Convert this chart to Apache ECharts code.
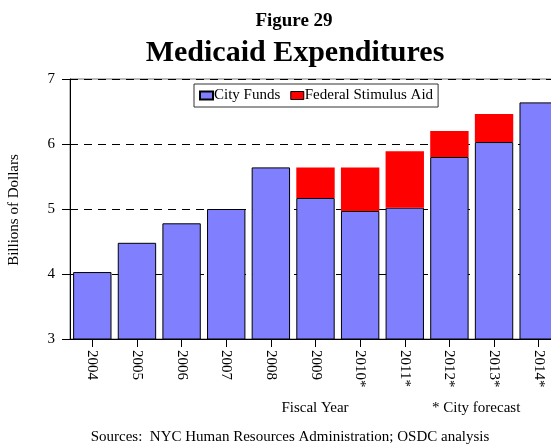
<!DOCTYPE html>
<html>
<head>
<meta charset="utf-8">
<script src="https://cdn.jsdelivr.net/npm/echarts@6/dist/echarts.min.js"></script>
<style>
html,body{margin:0;padding:0;background:#fff;}
#chart{width:551px;height:448px;}
</style>
</head>
<body>
<div id="chart"></div>
<script>
const categories = ['2004','2005','2006','2007','2008','2009','2010*','2011*','2012*','2013*','2014*'];
const cityFunds = [4.03, 4.48, 4.78, 5.00, 5.64, 5.17, 4.97, 5.02, 5.80, 6.03, 6.64];
const stimulusAid = [null, null, null, null, null, 0.47, 0.67, 0.87, 0.40, 0.43, null];
const yTicks = [3, 4, 5, 6, 7];

const FONT = "'Liberation Serif', 'DejaVu Serif', serif";
const chart = echarts.init(document.getElementById('chart'), null, {renderer: 'canvas'});

const option = {
  backgroundColor: '#fff',
  animation: false,
  textStyle: {fontFamily: FONT, color: '#000'},
  grid: {
    left: 70, top: 79, bottom: 109, width: 491,
    outerBoundsMode: 'none', containLabel: false,
    show: true, borderColor: '#777', borderWidth: 1, backgroundColor: 'transparent'
  },
  legend: {
    left: 194, top: 84,
    orient: 'horizontal',
    itemWidth: 13, itemHeight: 8, itemGap: 10,
    padding: [4, 5, 4, 5],
    borderColor: '#333', borderWidth: 1,
    textStyle: {fontFamily: FONT, fontSize: 15, color: '#000', padding: [0, 0, 0, -4]},
    data: [
      {name: 'City Funds', icon: 'rect'},
      {name: 'Federal Stimulus Aid', icon: 'rect', itemStyle: {borderColor: '#000', borderWidth: 1}}
    ]
  },
  xAxis: {
    type: 'category',
    data: categories,
    axisLine: {show: true, lineStyle: {color: '#000', width: 1}},
    axisTick: {show: true, alignWithLabel: true, length: 8, lineStyle: {color: '#000'}},
    axisLabel: {rotate: -90, margin: 11, fontFamily: FONT, fontSize: 15, color: '#000'}
  },
  yAxis: {
    type: 'value',
    min: yTicks[0], max: yTicks[yTicks.length - 1], interval: 1,
    axisLine: {show: true, lineStyle: {color: '#000', width: 1}},
    axisTick: {show: true, length: 8, lineStyle: {color: '#000'}},
    axisLabel: {margin: 15, fontFamily: FONT, fontSize: 15, color: '#000'},
    splitLine: {show: true, lineStyle: {color: '#000', width: 1, type: [8, 6]}}
  },
  series: [
    {
      name: 'City Funds', type: 'bar', stack: 'total',
      data: cityFunds,
      barCategoryGap: '14%',
      itemStyle: {color: '#8080FF', borderColor: '#000', borderWidth: 1}
    },
    {
      name: 'Federal Stimulus Aid', type: 'bar', stack: 'total',
      data: stimulusAid,
      barCategoryGap: '14%',
      itemStyle: {color: '#FF0000', borderWidth: 0}
    }
  ],
  graphic: [
    {type: 'text', style: {text: 'Figure 29', x: 294, y: 21, textAlign: 'center', textVerticalAlign: 'middle', font: "bold 19px " + FONT, fill: '#000'}},
    {type: 'text', style: {text: 'Medicaid Expenditures', x: 295, y: 53, textAlign: 'center', textVerticalAlign: 'middle', font: "bold 30px " + FONT, fill: '#000'}},
    {type: 'text', rotation: Math.PI / 2, x: 14, y: 210, style: {text: 'Billions of Dollars', x: 0, y: 0, textAlign: 'center', textVerticalAlign: 'middle', font: "15px " + FONT, fill: '#000'}},
    {type: 'text', style: {text: 'Fiscal Year', x: 315, y: 408, textAlign: 'center', textVerticalAlign: 'middle', font: "15px " + FONT, fill: '#000'}},
    {type: 'text', style: {text: '* City forecast', x: 432, y: 408, textAlign: 'left', textVerticalAlign: 'middle', font: "15px " + FONT, fill: '#000'}},
    {type: 'text', style: {text: 'Sources:  NYC Human Resources Administration; OSDC analysis', x: 290, y: 437, textAlign: 'center', textVerticalAlign: 'middle', font: "15px " + FONT, fill: '#000'}}
  ]
};
chart.setOption(option);
</script>
</body>
</html>
